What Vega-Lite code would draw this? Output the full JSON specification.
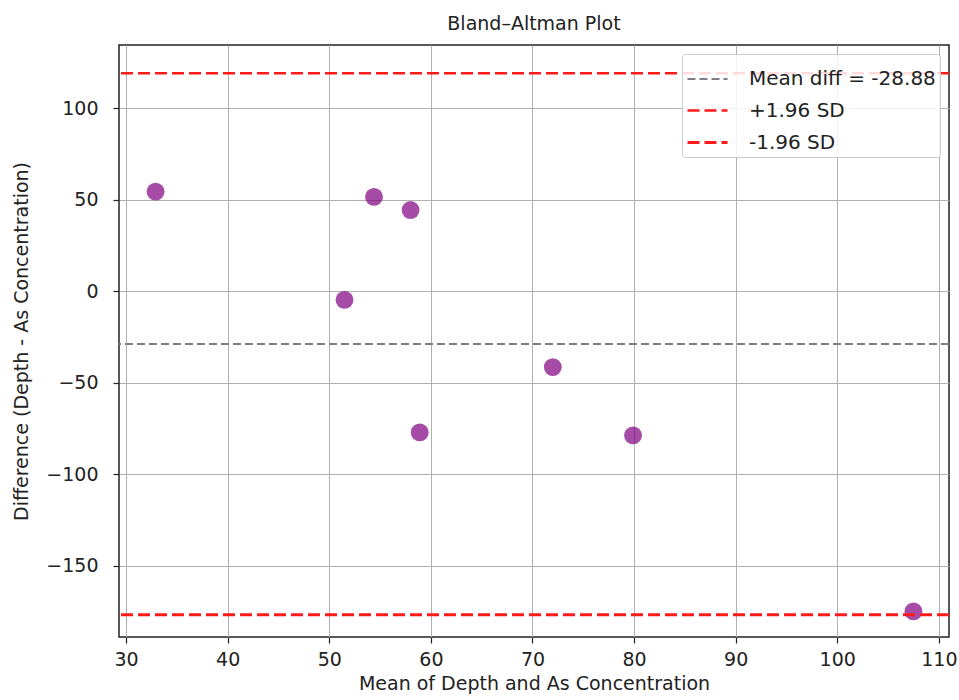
{
  "$schema": "https://vega.github.io/schema/vega-lite/v6.json",
  "autosize": "none",
  "width": 830,
  "height": 592,
  "padding": {"left": 119, "top": 45, "right": 10, "bottom": 63},
  "background": "white",
  "title": {"text": "Bland–Altman Plot", "fontSize": 19, "font": "DejaVu Sans", "fontWeight": "normal", "color": "#222222", "offset": 11, "anchor": "middle"},
  "config": {
    "font": "DejaVu Sans",
    "view": {"stroke": "#222222", "strokeWidth": 1.5},
    "axis": {
      "labelFont": "DejaVu Sans",
      "titleFont": "DejaVu Sans",
      "labelFontSize": 19,
      "titleFontSize": 19,
      "titleFontWeight": "normal",
      "labelColor": "#222222",
      "titleColor": "#222222",
      "tickColor": "#222222",
      "tickSize": 6,
      "tickWidth": 1.2,
      "domain": false,
      "gridColor": "#b0b0b0",
      "gridWidth": 1,
      "gridOpacity": 1
    }
  },
  "datasets": {
    "points": [
      {"mean": 32.9, "diff": 54.4},
      {"mean": 51.5, "diff": -4.8},
      {"mean": 54.4, "diff": 51.5},
      {"mean": 58.0, "diff": 44.3},
      {"mean": 58.9, "diff": -77.2},
      {"mean": 72.0, "diff": -41.5},
      {"mean": 79.9, "diff": -78.8},
      {"mean": 107.5, "diff": -175.0}
    ],
    "lines": [
      {"label": "Mean diff = -28.88", "value": -28.88},
      {"label": "+1.96 SD", "value": 119.1},
      {"label": "-1.96 SD", "value": -176.9}
    ]
  },
  "layer": [
    {
      "data": {"name": "points"},
      "mark": {"type": "circle", "size": 320, "color": "purple", "opacity": 0.7},
      "encoding": {
        "x": {"field": "mean", "type": "quantitative", "scale": {"domain": [29.3, 111], "nice": false, "zero": false},
              "axis": {"values": [30, 40, 50, 60, 70, 80, 90, 100, 110], "title": "Mean of Depth and As Concentration", "labelPadding": 7, "titlePadding": 5}},
        "y": {"field": "diff", "type": "quantitative", "scale": {"domain": [-189, 134.5], "nice": false, "zero": false},
              "axis": {"values": [-150, -100, -50, 0, 50, 100], "title": "Difference (Depth - As Concentration)", "labelPadding": 15, "titlePadding": 14}}
      }
    },
    {
      "data": {"name": "lines"},
      "mark": {"type": "rule"},
      "encoding": {
        "y": {"field": "value", "type": "quantitative"},
        "color": {"field": "label", "type": "nominal",
                  "scale": {"domain": ["Mean diff = -28.88", "+1.96 SD", "-1.96 SD"], "range": ["#7f7f7f", "#ff1a1a", "#ff1a1a"]},
                  "legend": {"title": null, "orient": "top-right", "offset": 9, "symbolType": "stroke", "symbolSize": 1600, "symbolStrokeWidth": 2.5,
                             "labelFontSize": 20, "labelFont": "DejaVu Sans", "labelColor": "#222222", "labelLimit": 400, "fillColor": "rgba(255,255,255,0.85)", "strokeColor": "#cccccc",
                             "padding": 4, "rowPadding": -10, "cornerRadius": 3, "labelOffset": 20}},
        "strokeDash": {"field": "label", "type": "nominal",
                       "scale": {"domain": ["Mean diff = -28.88", "+1.96 SD", "-1.96 SD"], "range": [[8, 4], [12, 5], [12, 5]]}},
        "strokeWidth": {"field": "label", "type": "nominal",
                        "scale": {"domain": ["Mean diff = -28.88", "+1.96 SD", "-1.96 SD"], "range": [2, 3, 3]}}
      }
    }
  ]
}
